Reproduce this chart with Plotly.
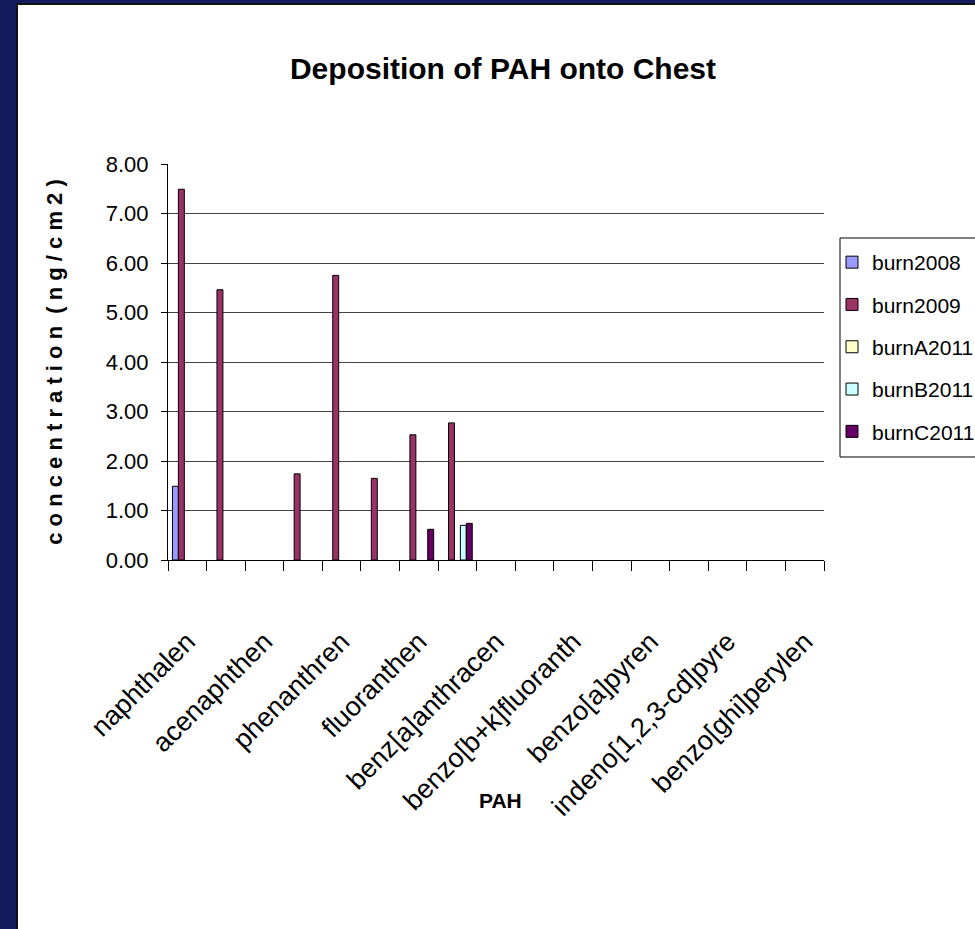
import plotly.graph_objects as go

# PAH species along the x axis (every other one is labelled)
categories = [
    "naphthalene", "acenaphthylene", "acenaphthene", "fluorene",
    "phenanthrene", "anthracene", "fluoranthene", "pyrene",
    "benz[a]anthracene", "chrysene", "benzo[b+k]fluoranthene",
    "benzo[e]pyrene", "benzo[a]pyrene", "perylene",
    "indeno[1,2,3-cd]pyrene", "dibenz[a,h]anthracene", "benzo[ghi]perylene",
]
# labels as they appear under the axis (clipped by the category width)
tick_labels = [
    "naphthalen", "", "acenaphthen", "", "phenanthren", "", "fluoranthen", "",
    "benz[a]anthracen", "", "benzo[b+k]fluoranth", "", "benzo[a]pyren", "",
    "indeno[1,2,3-cd]pyre", "", "benzo[ghi]perylen",
]

# deposition, ng/cm2 (None = not detected)
burn2008 = [1.49] + [None] * 16
burn2009 = [7.49, 5.46, None, 1.74, 5.75, 1.65, 2.53, 2.77] + [None] * 9
burnA2011 = [None] * 17
burnB2011 = [None] * 7 + [0.70] + [None] * 9
burnC2011 = [None] * 6 + [0.62, 0.74] + [None] * 9

series = [
    ("burn2008", burn2008, "#9999FF"),
    ("burn2009", burn2009, "#993366"),
    ("burnA2011", burnA2011, "#FFFFCC"),
    ("burnB2011", burnB2011, "#CCFFFF"),
    ("burnC2011", burnC2011, "#660066"),
]

FONT = "Liberation Sans, Arial, sans-serif"
W, H = 975, 929
L, R, T, B = 168, 151, 164, 369
pw, ph = W - L - R, H - T - B


def px_x(x):
    return (x - L) / pw


def px_y(y):
    return (H - B - y) / ph


fig = go.Figure()
for i, (name, vals, col) in enumerate(series):
    fig.add_trace(go.Bar(
        x=categories, y=vals, name=name,
        marker=dict(color=col, line=dict(color="black", width=1)),
        legendgroup=name,
    ))

shapes = [
    # white chart panel on the dark slide background
    dict(type="rect", xref="paper", yref="paper", layer="below",
         x0=px_x(17), x1=px_x(W + 20), y0=px_y(H + 20), y1=px_y(4),
         fillcolor="white", line=dict(color="#111111", width=2)),
    # legend frame
    dict(type="rect", xref="paper", yref="paper", layer="above",
         x0=px_x(840), x1=px_x(W + 20), y0=px_y(457), y1=px_y(238),
         fillcolor="rgba(0,0,0,0)", line=dict(color="black", width=1)),
]

fig.update_layout(
    width=W, height=H,
    margin=dict(l=L, r=R, t=T, b=B, pad=0, autoexpand=False),
    paper_bgcolor="#121B5B",
    plot_bgcolor="rgba(0,0,0,0)",
    barmode="group", bargap=1.5 / 6.5, bargroupgap=0,
    font=dict(family=FONT, color="black", size=21),
    title=dict(text="<b>Deposition of PAH onto Chest</b>",
               x=503 / W, xanchor="center", y=1 - 68 / H, yanchor="middle",
               font=dict(family=FONT, size=30, color="black")),
    showlegend=True,
    legend=dict(x=px_x(832), xanchor="left", y=px_y(242), yanchor="top",
                bgcolor="rgba(0,0,0,0)", borderwidth=0,
                font=dict(family=FONT, size=21, color="black"),
                tracegroupgap=12, traceorder="grouped"),
    shapes=shapes,
    annotations=[
        dict(text="<b>PAH</b>", xref="paper", yref="paper",
             x=px_x(501), y=px_y(800), xanchor="center", yanchor="middle",
             showarrow=False, font=dict(family=FONT, size=21, color="black")),
    ],
    xaxis=dict(
        type="category", categoryorder="array", categoryarray=categories,
        tickmode="array", tickvals=categories, ticktext=tick_labels,
        tickson="boundaries", ticks="outside", ticklen=10, tickcolor="black",
        tickwidth=1, tickangle=-45, showgrid=False,
        showline=True, linecolor="black", linewidth=1,
        tickfont=dict(family=FONT, size=27, color="black"),
        ticklabelstandoff=54,
    ),
    yaxis=dict(
        range=[0, 8], tickmode="array", tickvals=list(range(9)),
        ticktext=[f"{v:.2f}" for v in range(9)],
        ticks="outside", ticklen=6, tickcolor="black", tickwidth=1,
        showgrid=True, gridcolor="#444444", gridwidth=1,
        showline=True, linecolor="black", linewidth=1, zeroline=False,
        tickfont=dict(family=FONT, size=22, color="black"),
        ticklabelstandoff=8,
        title=dict(text="<b>c o n c e n t r a t i o n  ( n g / c m 2 )</b>",
                   standoff=37,
                   font=dict(family=FONT, size=22, color="black")),
    ),
)

fig.write_html("out.html")
